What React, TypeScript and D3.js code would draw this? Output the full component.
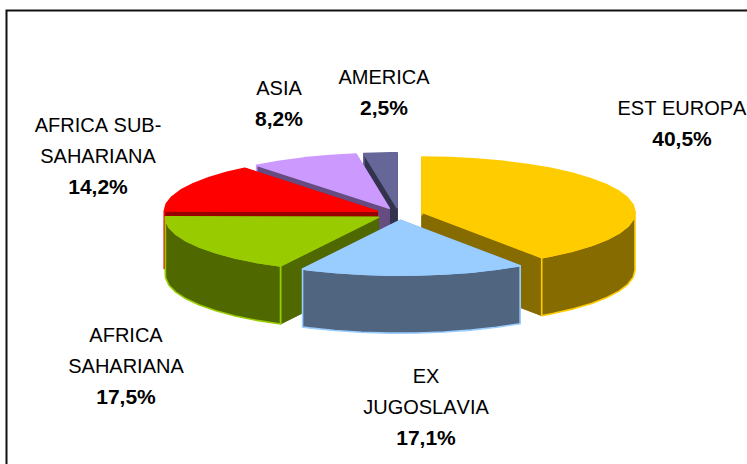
import React from "react";
import * as d3 from "d3";

const categories = [
  ["EST EUROPA"],
  ["EX", "JUGOSLAVIA"],
  ["AFRICA", "SAHARIANA"],
  ["AFRICA SUB-", "SAHARIANA"],
  ["ASIA"],
  ["AMERICA"],
];
const values = [40.5, 17.1, 17.5, 14.2, 8.2, 2.5];
const topColors = ["#FFCC00", "#99CCFF", "#99CC00", "#FF0000", "#CC99FF", "#666699"];
const wallColors = ["#866B00", "#4F6580", "#4F6800", "#990000", "#664C80", "#33334D"];
const drawOrder = [5, 4, 3, 0, 2, 1];

const width = 747;
const height = 464;
const cx = 399;
const cy = 214;
const rx = 213;
const ry = 55;
const depth = 58;
const explode = 0.113;

// label centre x and first baseline, same order as categories
const labelX = [682, 426, 126, 98, 279, 384];
const labelY = [115, 383, 342, 132, 95, 84];

const pie = d3.pie<number>().sort(null).startAngle(0).endAngle(2 * Math.PI);
const arcs = pie(values);

const xScale = d3.scaleLinear().domain([-1, 1]).range([-rx, rx]);
const yScale = d3.scaleLinear().domain([-1, 1]).range([ry, -ry]);
const path = d3.line();

// sampled coarsely on purpose, the original edge is faceted
function rim(a0: number, a1: number, ox: number, oy: number): [number, number][] {
  const angles = [...d3.range(a0, a1, 0.13), a1];
  return angles.map((a) => [ox + xScale(Math.sin(a)), oy + yScale(Math.cos(a))]);
}

function Slice({ i }: { i: number }) {
  const { startAngle: a0, endAngle: a1 } = arcs[i];
  const mid = (a0 + a1) / 2;
  const ox = cx + xScale(Math.sin(mid) * explode);
  const oy = cy + yScale(Math.cos(mid) * explode);
  const top = topColors[i];
  const wall = wallColors[i];
  const style = { stroke: top, strokeWidth: 1.6, strokeLinejoin: "round" as const };

  const cutEnd = (a: number): [number, number] => [ox + xScale(Math.sin(a)), oy + yScale(Math.cos(a))];
  const cut = (a: number) => {
    const p = cutEnd(a);
    return path([[ox, oy], p, [p[0], p[1] + depth], [ox, oy + depth]]) + "Z";
  };
  const edge = (a: number) => {
    const p = cutEnd(a);
    return path([p, [p[0], p[1] + depth]]) as string;
  };

  // outer wall only where the rim faces the viewer
  const front0 = Math.max(a0, Math.PI / 2);
  const front1 = Math.min(a1, (3 * Math.PI) / 2);
  const upper = front1 > front0 ? rim(front0, front1, ox, oy) : [];
  const lower = upper.map(([x, y]) => [x, y + depth] as [number, number]).reverse();

  return (
    <g>
      <path d={cut(a1)} fill={wall} stroke={wall} strokeWidth={1} />
      <path d={cut(a0)} fill={wall} stroke={wall} strokeWidth={1} />
      <path d={edge(a0)} fill="none" {...style} />
      {upper.length > 0 && <path d={path([...upper, ...lower]) + "Z"} fill={wall} {...style} />}
      <path d={path([[ox, oy], ...rim(a0, a1, ox, oy)]) + "Z"} fill={top} {...style} />
    </g>
  );
}

export default function App() {
  return (
    <svg
      width={width}
      height={height}
      style={{ position: "absolute", left: 0, top: 0, background: "#fff", fontKerning: "none" }}
      fontFamily="'Liberation Sans', Arial, sans-serif"
      fontSize={20}
    >
      <path d={`M${width},10.5H6.5V${height}`} fill="none" stroke="#111" strokeWidth={2} />
      {drawOrder.map((i) => (
        <Slice key={i} i={i} />
      ))}
      {categories.map((lines, i) => (
        <text key={i} textAnchor="middle" fill="#000">
          {lines.map((t, j) => (
            <tspan key={j} x={labelX[i]} y={labelY[i] + j * 30.5}>
              {t}
            </tspan>
          ))}
          <tspan x={labelX[i]} y={labelY[i] + lines.length * 31} fontWeight="bold" fontSize={21}>
            {String(values[i]).replace(".", ",")}%
          </tspan>
        </text>
      ))}
    </svg>
  );
}
